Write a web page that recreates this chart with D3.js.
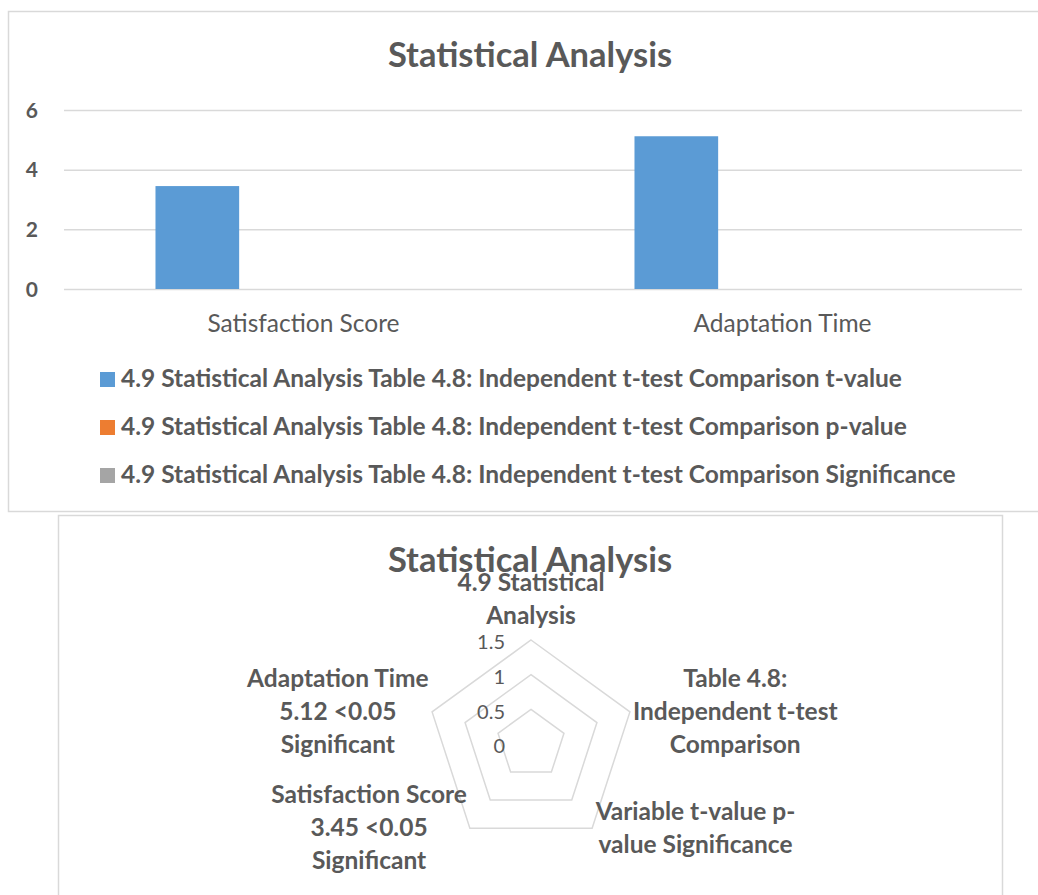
<!DOCTYPE html>
<html>
<head>
	<title>Statistical Analysis</title>
	<meta charset="UTF-8">
	<style>
		body { margin: 0; background: #fff; }
		text { font-family: Lato, "Open Sans", sans-serif; fill: #595959; }
		.frame { fill: none; stroke: #d9d9d9; stroke-width: 1.5px; }
		.grid line, .grid path { stroke: #d9d9d9; stroke-width: 1.5px; fill: none; }
		.bold { font-weight: bold; }
	</style>
</head>
<body>
<script src="https://d3js.org/d3.v7.min.js"></script>
<script>

'use strict';

// ---- data ----
var categories = ["Satisfaction Score", "Adaptation Time"];
var seriesNames = [
	"4.9 Statistical Analysis Table 4.8: Independent t-test Comparison t-value",
	"4.9 Statistical Analysis Table 4.8: Independent t-test Comparison p-value",
	"4.9 Statistical Analysis Table 4.8: Independent t-test Comparison Significance"
];
var tValues = [3.45, 5.12];
var pValues = [0, 0];
var significance = [0, 0];
var seriesColors = ["#5b9bd5", "#ed7d31", "#a5a5a5"];
var yTicks = [0, 2, 4, 6];

var radarAxes = [
	["4.9 Statistical", "Analysis"],
	["Table 4.8:", "Independent t-test", "Comparison"],
	["Variable t-value p-", "value Significance"],
	["Satisfaction Score", "3.45 <0.05", "Significant"],
	["Adaptation Time", "5.12 <0.05", "Significant"]
];
var radarTicks = [0, 0.5, 1, 1.5];

var width = 1038;
var height = 895;

var svg = d3.select("body").append("svg")
	.attr("width", width)
	.attr("height", height);

// ================= bar chart =================
var barG = svg.append("g");

barG.append("rect")
	.attr("class", "frame")
	.attr("x", 8.5).attr("y", 11.5)
	.attr("width", 1040).attr("height", 500);

barG.append("text")
	.attr("class", "bold")
	.attr("x", 530).attr("y", 67)
	.attr("text-anchor", "middle")
	.style("font-size", "34.5px")
	.text("Statistical Analysis");

var plot = {left: 64, right: 1022, top: 110, bottom: 289};

var x0 = d3.scaleBand()
	.domain(categories)
	.range([plot.left, plot.right]);

var x1 = d3.scaleBand()
	.domain(d3.range(seriesNames.length))
	.range([x0.bandwidth() * 0.191, x0.bandwidth() * 0.715]);

var y = d3.scaleLinear()
	.domain([0, 6])
	.range([plot.bottom, plot.top]);

var grid = barG.append("g")
	.attr("class", "grid")
	.attr("transform", "translate(" + plot.left + ",0)")
	.call(d3.axisLeft(y).tickValues(yTicks).tickSize(-(plot.right - plot.left)).tickFormat(""));
grid.select(".domain").remove();

barG.append("g").selectAll("text")
	.data(yTicks)
	.enter().append("text")
	.attr("class", "bold")
	.attr("x", 38).attr("y", function(d){ return y(d); })
	.attr("dy", "0.36em")
	.attr("text-anchor", "end")
	.style("font-size", "21px")
	.text(function(d){ return d; });

var allSeries = [tValues, pValues, significance];

var groups = barG.append("g").selectAll("g")
	.data(categories)
	.enter().append("g")
	.attr("transform", function(d){ return "translate(" + x0(d) + ",0)"; });

groups.selectAll("rect")
	.data(function(d, i){ return allSeries.map(function(s, k){ return {k: k, v: s[i]}; }); })
	.enter().append("rect")
	.attr("x", function(d){ return x1(d.k); })
	.attr("width", x1.bandwidth())
	.attr("y", function(d){ return y(d.v); })
	.attr("height", function(d){ return y(0) - y(d.v); })
	.attr("fill", function(d){ return seriesColors[d.k]; });

barG.append("g").selectAll("text")
	.data(categories)
	.enter().append("text")
	.attr("x", function(d){ return x0(d) + x0.bandwidth() / 2; })
	.attr("y", 332)
	.attr("text-anchor", "middle")
	.style("font-size", "24.5px")
	.text(function(d){ return d; });

var legend = barG.append("g").selectAll("g")
	.data(seriesNames)
	.enter().append("g")
	.attr("transform", function(d, i){ return "translate(100," + (372 + i * 48) + ")"; });

legend.append("rect")
	.attr("width", 15).attr("height", 15)
	.attr("fill", function(d, i){ return seriesColors[i]; });

legend.append("text")
	.attr("class", "bold")
	.attr("x", 21).attr("y", 15)
	.style("font-size", "24.5px")
	.text(function(d){ return d; });

// ================= radar chart =================
var radarG = svg.append("g");

radarG.append("rect")
	.attr("class", "frame")
	.attr("x", 58.5).attr("y", 515.5)
	.attr("width", 944).attr("height", 420);

radarG.append("text")
	.attr("class", "bold")
	.attr("x", 530).attr("y", 572)
	.attr("text-anchor", "middle")
	.style("font-size", "34.5px")
	.text("Statistical Analysis");

var cx = 531, cy = 744;
var r = d3.scaleLinear().domain([0, 1.5]).range([0, 104]);
var n = radarAxes.length;
function angle(i){ return i * 2 * Math.PI / n; }
function pt(i, v){ return [cx + r(v) * Math.sin(angle(i)), cy - r(v) * Math.cos(angle(i))]; }

var radarGrid = radarG.append("g").attr("class", "grid");
radarGrid.selectAll("path")
	.data(radarTicks.filter(function(d){ return d > 0; }))
	.enter().append("path")
	.attr("d", function(v){
		return d3.line()(d3.range(n).map(function(i){ return pt(i, v); })) + "Z";
	});

radarG.append("g").selectAll("text")
	.data(radarTicks)
	.enter().append("text")
	.attr("x", cx - 26)
	.attr("y", function(d){ return cy - r(d) + 2; })
	.attr("dy", "0.36em")
	.attr("text-anchor", "end")
	.style("font-size", "20px")
	.text(function(d){ return d; });

var lineH = 33;
var labels = radarG.append("g").selectAll("text")
	.data(radarAxes)
	.enter().append("text")
	.attr("class", "bold")
	.attr("text-anchor", "middle")
	.style("font-size", "24.5px");

labels.each(function(lines, i){
	var t = d3.select(this);
	lines.forEach(function(s, k){
		t.append("tspan").attr("x", 0).attr("dy", k ? lineH : 0).text(s);
	});
	var bb = this.getBBox();
	var p = pt(i, 1.5);
	var s = Math.sin(angle(i));
	var blockH = (lines.length - 1) * lineH;
	var tx, ty;
	if (Math.abs(s) < 0.01) {
		tx = p[0];
		ty = p[1] - 16 - blockH;
	} else {
		tx = p[0] + (s > 0 ? 1 : -1) * (bb.width / 2 + 3);
		ty = p[1] - blockH / 2 + 8;
	}
	t.attr("transform", "translate(" + tx + "," + ty + ")");
});

</script>
</body>
</html>
